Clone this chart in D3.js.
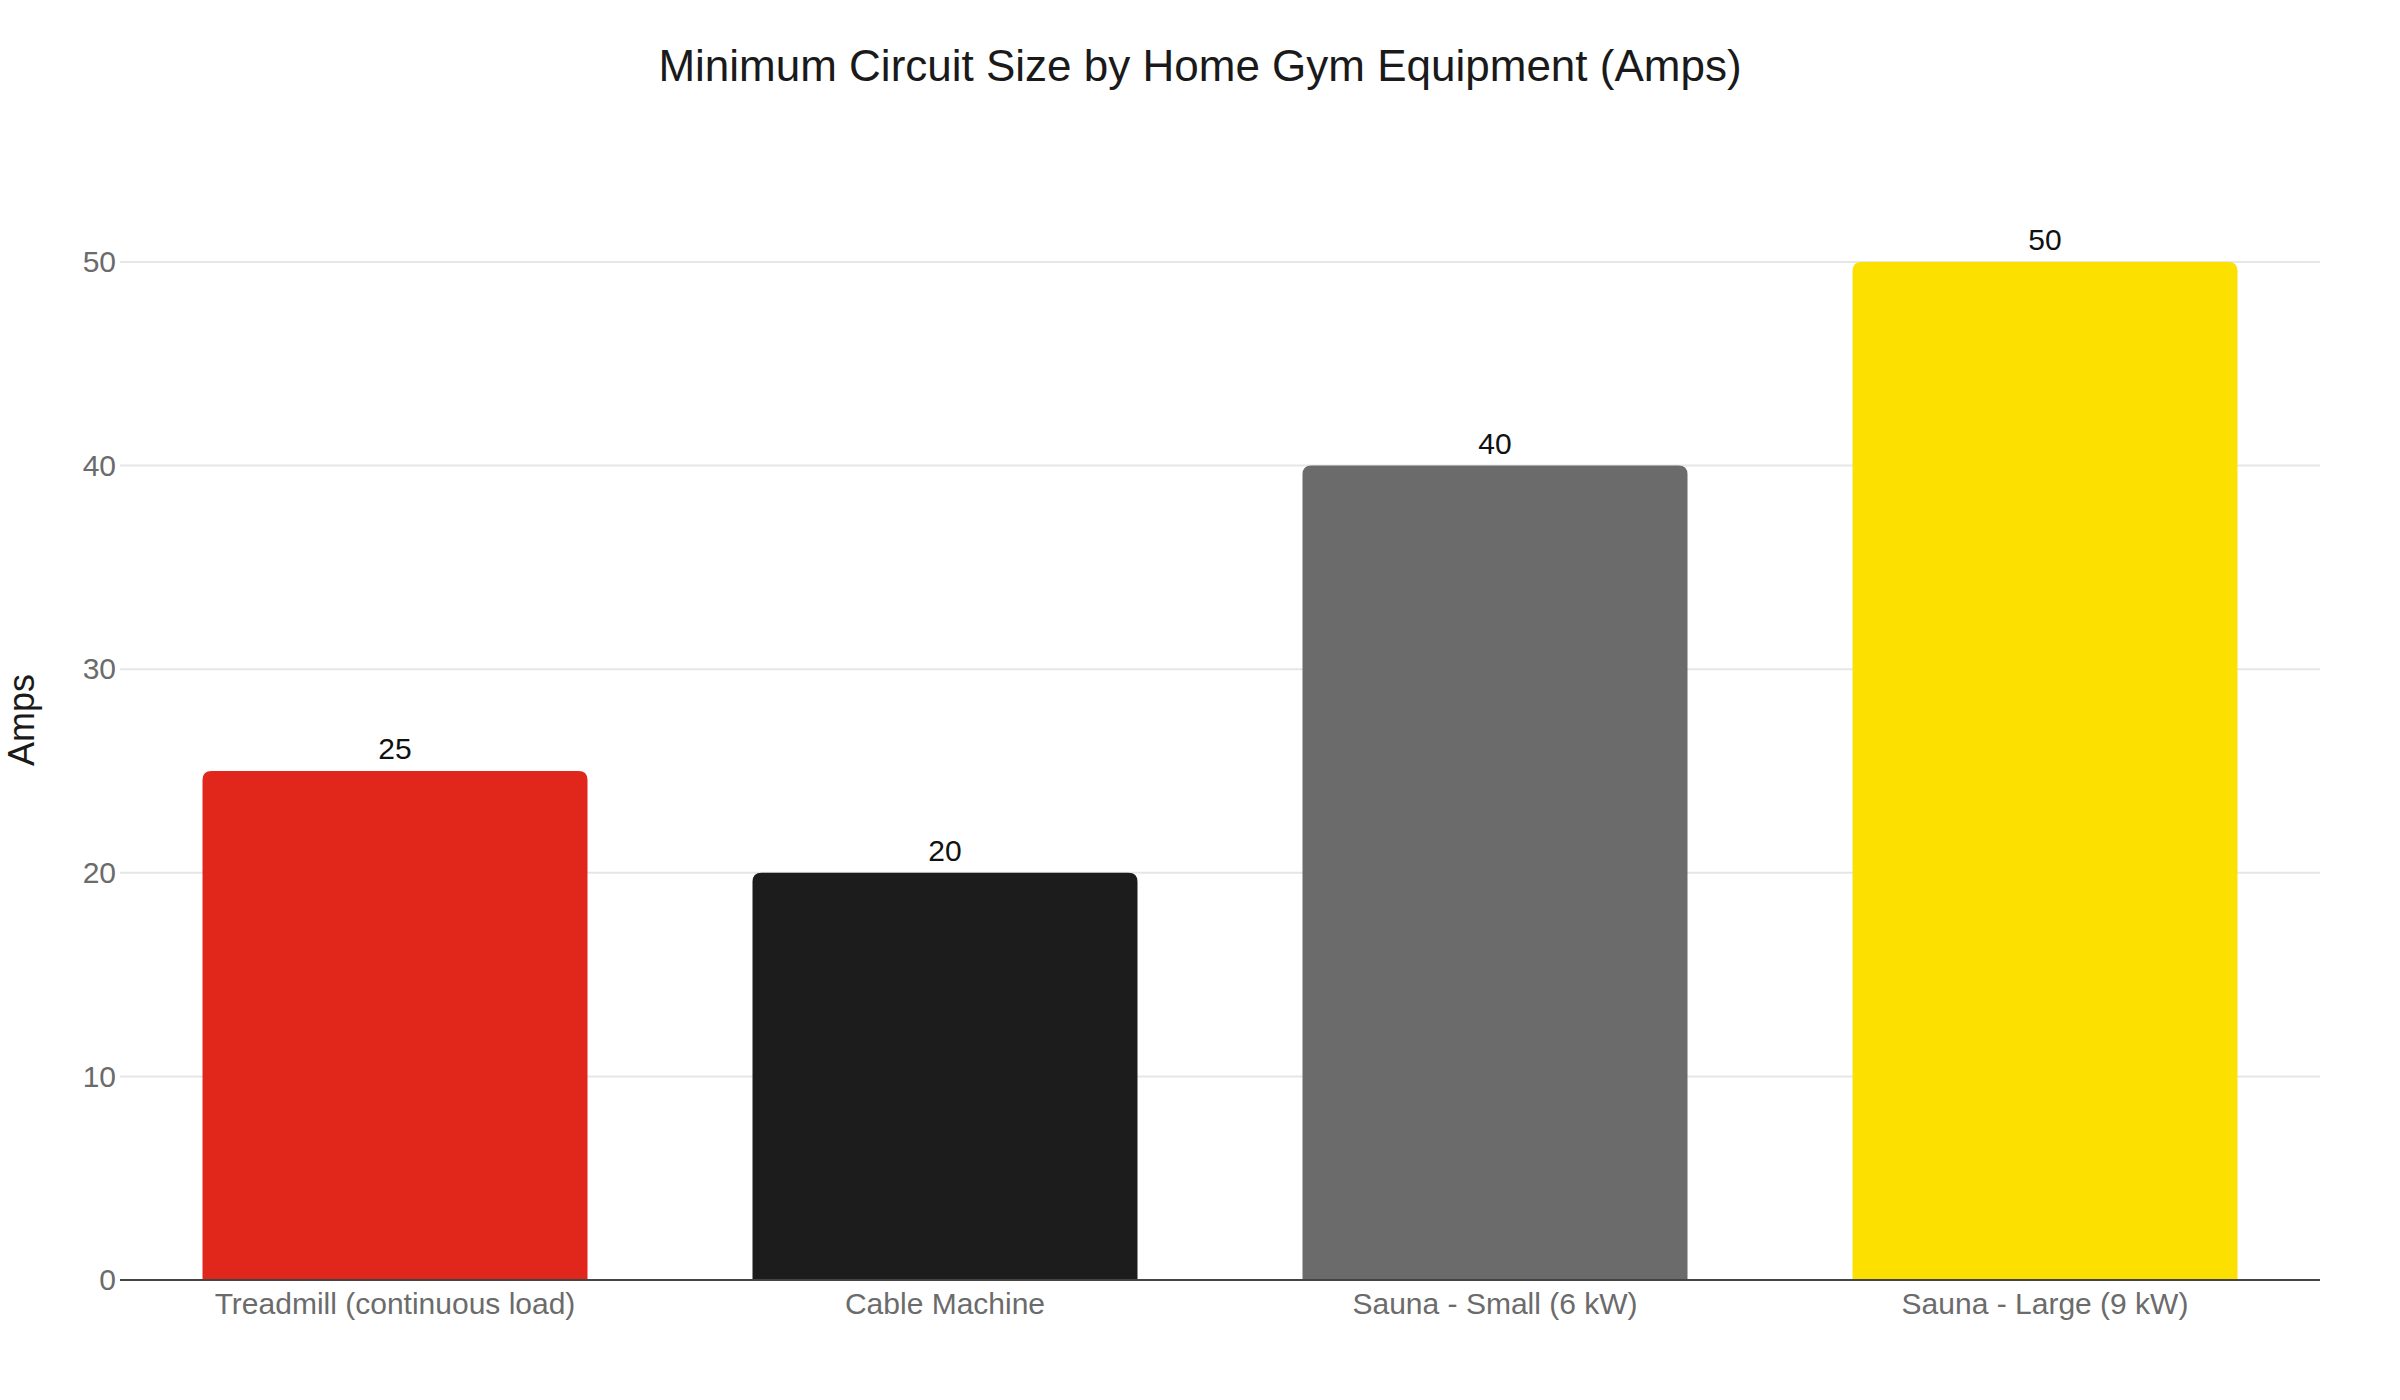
<!DOCTYPE html>
<html>
<head>
<meta charset="utf-8">
<script src="https://cdn.jsdelivr.net/npm/d3@7"></script>
<style>
  html, body { margin: 0; padding: 0; background: #ffffff; }
  svg { display: block; font-family: "Liberation Sans", Arial, Helvetica, sans-serif; }
</style>
</head>
<body>
<svg id="chart" width="2400" height="1400"></svg>
<script>
const categories = ["Treadmill (continuous load)", "Cable Machine", "Sauna - Small (6 kW)", "Sauna - Large (9 kW)"];
const amps = [25, 20, 40, 50];
const barColors = ["#E1261C", "#1C1C1C", "#6B6B6B", "#FCE100"];
const yTicks = [0, 10, 20, 30, 40, 50];
const titleText = "Minimum Circuit Size by Home Gym Equipment (Amps)";
const yAxisTitle = "Amps";

const W = 2400, H = 1400;
const margin = { left: 120, right: 80, top: 262, bottom: 120 };
const svg = d3.select("#chart");

const x = d3.scaleBand()
  .domain(categories)
  .range([margin.left, W - margin.right])
  .paddingInner(0.3)
  .paddingOuter(0.15);

const y = d3.scaleLinear()
  .domain([0, 50])
  .range([H - margin.bottom, margin.top]);

// gridlines
svg.append("g")
  .selectAll("line")
  .data(yTicks.filter(d => d !== 0))
  .join("line")
  .attr("x1", margin.left)
  .attr("x2", W - margin.right)
  .attr("y1", d => y(d))
  .attr("y2", d => y(d))
  .attr("stroke", "#e6e6e6")
  .attr("stroke-width", 2);

// y axis labels
const yAxis = d3.axisLeft(y).tickValues(yTicks).tickSize(0).tickPadding(4).tickFormat(d3.format("d"));
const yg = svg.append("g").attr("transform", `translate(${margin.left},0)`).call(yAxis);
yg.select(".domain").remove();
yg.selectAll("text")
  .attr("font-size", 30)
  .attr("fill", "#6b6b6b")
  .attr("font-family", "Liberation Sans, Arial, sans-serif");

// bars with rounded top corners
const r = 9;
function barPath(d, i) {
  const x0 = x(categories[i]);
  const w = x.bandwidth();
  const yt = y(d);
  const yb = y(0);
  return `M${x0},${yb} L${x0},${yt + r} Q${x0},${yt} ${x0 + r},${yt} L${x0 + w - r},${yt} Q${x0 + w},${yt} ${x0 + w},${yt + r} L${x0 + w},${yb} Z`;
}
svg.append("g")
  .selectAll("path")
  .data(amps)
  .join("path")
  .attr("d", (d, i) => barPath(d, i))
  .attr("fill", (d, i) => barColors[i]);

// value labels
svg.append("g")
  .selectAll("text")
  .data(amps)
  .join("text")
  .attr("x", (d, i) => x(categories[i]) + x.bandwidth() / 2)
  .attr("y", d => y(d) - 12)
  .attr("text-anchor", "middle")
  .attr("font-size", 30)
  .attr("fill", "#111111")
  .text(d => d);

// x axis
const xAxis = d3.axisBottom(x).tickSize(0).tickPadding(13);
const xg = svg.append("g").attr("transform", `translate(0,${y(0)})`).call(xAxis);
xg.select(".domain").attr("stroke", "#444444").attr("stroke-width", 2)
  .attr("d", `M${margin.left},0H${W - margin.right}`);
xg.selectAll("text")
  .attr("font-size", 30)
  .attr("fill", "#6b6b6b")
  .attr("font-family", "Liberation Sans, Arial, sans-serif");

// title
svg.append("text")
  .attr("x", W / 2)
  .attr("y", 81)
  .attr("text-anchor", "middle")
  .attr("font-size", 44)
  .attr("fill", "#1a1a1a")
  .text(titleText);

// y axis title
svg.append("text")
  .attr("transform", `translate(34,720) rotate(-90)`)
  .attr("text-anchor", "middle")
  .attr("font-size", 36)
  .attr("fill", "#1a1a1a")
  .text(yAxisTitle);
</script>
</body>
</html>
